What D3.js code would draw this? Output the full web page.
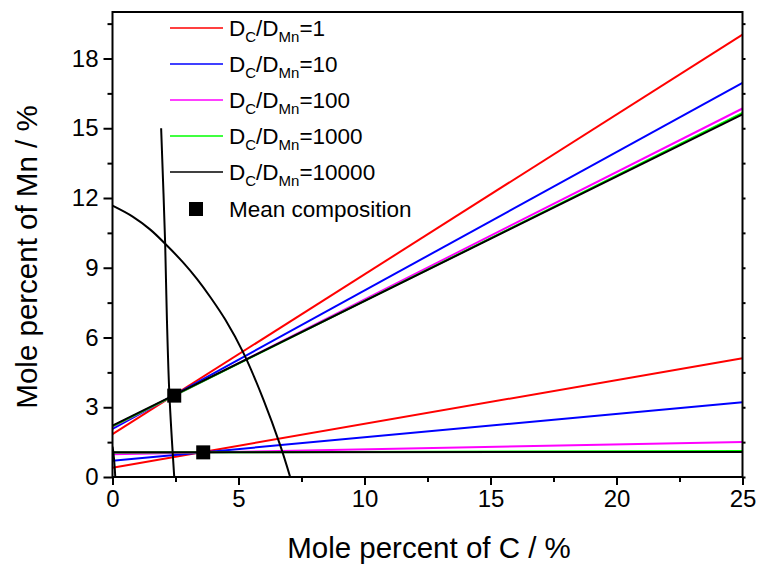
<!DOCTYPE html>
<html>
<head>
<meta charset="utf-8">
<script src="https://cdn.jsdelivr.net/npm/d3@7"></script>
<style>
  html, body { margin: 0; padding: 0; background: #fff; }
  svg text { font-family: "Liberation Sans", Arial, sans-serif; fill: #000; }
</style>
</head>
<body>
<svg id="chart" width="759" height="566"></svg>
<script>
// Diffusivity ratios D_C / D_Mn and their line colours
const ratios = ["1", "10", "100", "1000", "10000"];
const colors = ["#ff0000", "#0000ff", "#ff00ff", "#00ff00", "#000000"];

// Tie-lines through the upper mean composition: Mn at C = 0 and at C = 25
const upperMnAt0 = [1.84, 2.07, 2.16, 2.18, 2.21];
const upperMnAt25 = [19.03, 16.95, 15.85, 15.66, 15.60];

// Tie-lines through the lower mean composition
const lowerMnAt0 = [0.40, 0.70, 0.98, 1.05, 1.06];
const lowerMnAt25 = [5.11, 3.22, 1.51, 1.12, 1.08];

// Mean compositions (C %, Mn %)
const meanC = [2.45, 3.60];
const meanMn = [3.50, 1.06];

// Phase boundary curves
const steepC = [1.93, 2.09, 2.16, 2.26, 2.45];
const steepMn = [15.0, 10.03, 6.76, 3.50, 0.0];
const archC = [0.0, 0.8, 1.5, 2.09, 2.8, 3.35, 3.9, 4.48, 5.2, 6.0, 6.65, 7.05];
const archMn = [11.67, 11.2, 10.64, 10.03, 9.23, 8.52, 7.71, 6.76, 5.33, 3.3, 1.38, 0.0];
const edgeC = [0.0, 0.04, 0.11];
const edgeMn = [1.3, 1.0, 0.0];

// Axis ticks
const xTicks = [0, 5, 10, 15, 20, 25];
const xMinor = [2.5, 7.5, 12.5, 17.5, 22.5];
const yTicks = [0, 3, 6, 9, 12, 15, 18];
const yMinor = [1.5, 4.5, 7.5, 10.5, 13.5, 16.5, 19.5];

const svg = d3.select("#chart");
const pLeft = 112.5, pRight = 742.5, pTop = 12, pBottom = 477;
const x = d3.scaleLinear().domain([0, 25]).range([pLeft, pRight]);
const y = d3.scaleLinear().domain([0, 20]).range([pBottom, pTop]);

const plot = svg.append("g");
svg.append("clipPath").attr("id", "clip")
  .append("rect").attr("x", pLeft).attr("y", pTop)
  .attr("width", pRight - pLeft).attr("height", pBottom - pTop);
const data = plot.append("g").attr("clip-path", "url(#clip)");

const line = d3.line().x(d => x(d[0])).y(d => y(d[1]));
const curve = d3.line().x(d => x(d[0])).y(d => y(d[1])).curve(d3.curveCatmullRom.alpha(0.5));

// tie-lines
ratios.forEach((r, i) => {
  [[upperMnAt0, upperMnAt25], [lowerMnAt0, lowerMnAt25]].forEach(([a, b]) => {
    data.append("path")
      .attr("d", line([[0, a[i]], [25, b[i]]]))
      .attr("fill", "none").attr("stroke", colors[i]).attr("stroke-width", 2);
  });
});

// phase boundaries
[[steepC, steepMn], [archC, archMn], [edgeC, edgeMn]].forEach(([cs, ms]) => {
  data.append("path")
    .attr("d", curve(cs.map((c, k) => [c, ms[k]])))
    .attr("fill", "none").attr("stroke", "#000").attr("stroke-width", 2);
});

// mean composition markers
meanC.forEach((c, k) => {
  plot.append("rect")
    .attr("x", x(c) - 7).attr("y", y(meanMn[k]) - 7)
    .attr("width", 14).attr("height", 14).attr("fill", "#000");
});

// axes
const tickFont = "'Liberation Sans Narrow', 'Arial Narrow', 'Liberation Sans', sans-serif";
const axisG = svg.append("g");
const bottomAxis = d3.axisBottom(x).tickValues(xTicks).tickSize(8).tickPadding(5).tickFormat(d3.format("d"));
const leftAxis = d3.axisLeft(y).tickValues(yTicks).tickSize(9).tickPadding(5).tickFormat(d3.format("d"));
axisG.append("g").attr("transform", `translate(0,${pBottom})`).call(bottomAxis);
axisG.append("g").attr("transform", `translate(${pLeft},0)`).call(leftAxis);
axisG.append("g").attr("transform", `translate(0,${pBottom})`)
  .call(d3.axisBottom(x).tickValues(xMinor).tickSize(5).tickFormat(""));
axisG.append("g").attr("transform", `translate(${pLeft},0)`)
  .call(d3.axisLeft(y).tickValues(yMinor).tickSize(5).tickFormat(""));
axisG.append("g").attr("transform", `translate(${pRight},0)`)
  .call(d3.axisRight(y).tickValues(yTicks.concat(yMinor)).tickSize(3).tickFormat(""));
axisG.selectAll(".domain").remove();
axisG.selectAll(".tick line").attr("stroke", "#000").attr("stroke-width", 2);
axisG.selectAll(".tick text").attr("font-size", 24).attr("font-family", tickFont);

// frame
svg.append("rect").attr("x", pLeft).attr("y", pTop)
  .attr("width", pRight - pLeft).attr("height", pBottom - pTop)
  .attr("fill", "none").attr("stroke", "#000").attr("stroke-width", 2);

// axis titles
svg.append("text").attr("x", 429).attr("y", 558)
  .attr("text-anchor", "middle").attr("font-size", 29.5)
  .text("Mole percent of C / %");
svg.append("text").attr("transform", "translate(37,257) rotate(-90)")
  .attr("text-anchor", "middle").attr("font-size", 29.5)
  .text("Mole percent of Mn / %");

// legend
const legend = svg.append("g");
ratios.forEach((r, i) => {
  const ly = 28 + i * 36;
  legend.append("line").attr("x1", 170).attr("x2", 223).attr("y1", ly).attr("y2", ly)
    .attr("stroke", colors[i]).attr("stroke-width", 1.5);
  const t = legend.append("text").attr("x", 229).attr("y", ly + 8).attr("font-size", 22.5);
  t.append("tspan").text("D");
  t.append("tspan").attr("font-size", 15).attr("dy", 6).text("C");
  t.append("tspan").attr("dy", -6).text("/D");
  t.append("tspan").attr("font-size", 15).attr("dy", 6).text("Mn");
  t.append("tspan").attr("dy", -6).text("=" + r);
});
legend.append("rect").attr("x", 189).attr("y", 202).attr("width", 14).attr("height", 14).attr("fill", "#000");
legend.append("text").attr("x", 229).attr("y", 217).attr("font-size", 22.5).text("Mean composition");
</script>
</body>
</html>
